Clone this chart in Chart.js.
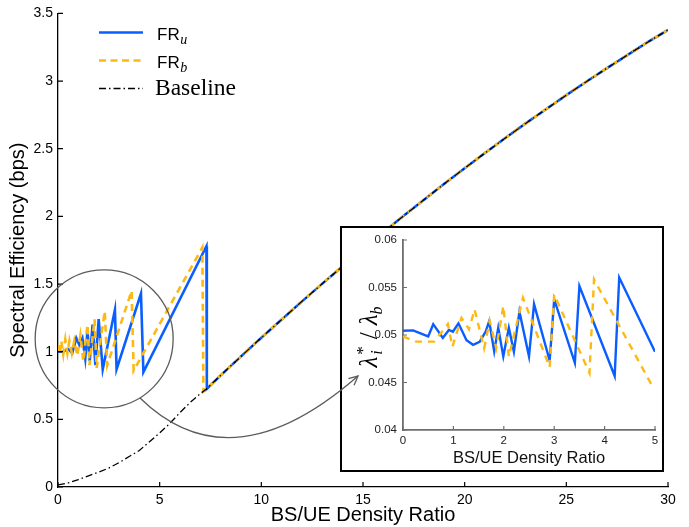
<!DOCTYPE html>
<html><head><meta charset="utf-8">
<script src="https://cdn.jsdelivr.net/npm/chart.js@4"></script>
<style>
html,body{margin:0;padding:0;background:#fff;}
#wrap{position:relative;width:689px;height:527px;overflow:hidden;background:#fff;}
#main{position:absolute;left:0;top:0;}
#inset{position:absolute;left:340px;top:226px;background:#fff;}
</style></head><body>
<div id="wrap"><canvas id="main" width="689" height="527"></canvas><canvas id="inset" width="324" height="246"></canvas></div>
<script>
// ---------- data ----------
const baseX = [0,0.5,1,1.5,2,2.5,3,3.5,4,4.5,5,5.5,6,6.5,7,7.3,8,9,10,11,12,13,14,15,16,17,18,19,20,21,22,23,24,25,26,27,28,29,30];
const baseY = [0.015,0.03,0.055,0.083,0.11,0.14,0.18,0.225,0.27,0.335,0.40,0.47,0.55,0.625,0.69,0.725,0.825,0.965,1.103,1.238,1.372,1.503,1.632,1.758,1.882,2.004,2.123,2.241,2.356,2.468,2.579,2.687,2.792,2.896,2.997,3.096,3.192,3.287,3.378];

const fruX = [0,0.25,0.5,0.7,0.9,1.05,1.2,1.34,1.45,1.56,1.7,1.84,2.0,2.2,2.8,2.88,4.08,4.2,7.3,7.32];
const fruY = [1.0,1.0,1.02,0.99,1.1,1.05,1.1,0.95,1.16,0.93,1.2,0.9,1.24,0.87,1.31,0.87,1.43,0.85,1.78,0.725];

const frbX = [0,0.08,0.16,0.26,0.36,0.46,0.56,0.68,0.8,0.95,1.1,1.25,1.45,1.55,1.8,1.9,2.3,2.42,3.62,3.72,7.1,7.15];
const frbY = [1.05,0.98,1.08,0.98,1.09,0.99,1.08,0.99,1.08,0.97,1.12,0.93,1.2,0.9,1.24,0.88,1.3,0.9,1.45,0.86,1.77,0.705];

const insetFruX = [0,0.2,0.5,0.6,0.79,0.91,0.99,1.1,1.26,1.39,1.52,1.64,1.71,1.81,1.89,1.99,2.1,2.2,2.31,2.5,2.6,2.91,3.0,3.41,3.5,4.2,4.29,5];
const insetFruY = [0.05045,0.05049,0.04985,0.05114,0.04968,0.05053,0.05035,0.05123,0.04945,0.04897,0.04928,0.05035,0.05145,0.04826,0.05075,0.04775,0.05075,0.04826,0.05245,0.04775,0.05325,0.04732,0.05375,0.04706,0.05515,0.04568,0.05606,0.04824];

const insetFrbX = [0,0.26,0.62,0.89,0.98,1.16,1.31,1.42,1.61,1.72,1.85,1.99,2.1,2.38,2.91,3.0,3.7,3.79,4.97];
const insetFrbY = [0.04985,0.0493,0.0493,0.05115,0.04877,0.05180,0.05060,0.05270,0.04860,0.05150,0.04860,0.05305,0.04772,0.05392,0.04660,0.05425,0.04600,0.05585,0.04439];

const mainXTicks = [0,5,10,15,20,25,30];
const mainYTicks = [0,0.5,1,1.5,2,2.5,3,3.5];
const insetXTicks = [0,1,2,3,4,5];
const insetYTicks = [0.04,0.045,0.05,0.055,0.06];

// ---------- styles ----------
const BLUE = '#0a5eff';
const YEL = '#fdb913';
const SANS = '"Liberation Sans", Arial, Helvetica, sans-serif';
const SERIF = '"Liberation Serif", "Times New Roman", serif';

const pts = (xs, ys) => xs.map((x, i) => ({x, y: ys[i]}));
const baseTail = (from) => pts(baseX, baseY).filter(p => p.x > from);

const baseMain = pts(baseX, baseY);
const fruMain = pts(fruX, fruY).concat(baseTail(7.4));
const frbMain = pts(frbX, frbY).concat(baseTail(7.2));

function inwardTicks(chart, len, color, width) {
  const {ctx, chartArea: {left, bottom}} = chart;
  const xs = chart.scales.x, ys = chart.scales.y;
  ctx.save();
  ctx.strokeStyle = color; ctx.lineWidth = width; ctx.setLineDash([]);
  ctx.beginPath();
  xs.ticks.forEach(t => { const p = xs.getPixelForValue(t.value); ctx.moveTo(p, bottom); ctx.lineTo(p, bottom - len); });
  ys.ticks.forEach(t => { const p = ys.getPixelForValue(t.value); ctx.moveTo(left, p); ctx.lineTo(left + len, p); });
  ctx.stroke();
  ctx.restore();
}

// arrow annotation (page coordinates), offset for the canvas it is drawn in
function drawArrow(ctx, ox, oy) {
  const p0 = {x: 140 - ox, y: 398 - oy}, c = {x: 231 - ox, y: 487 - oy}, p2 = {x: 358 - ox, y: 376 - oy};
  ctx.save();
  ctx.strokeStyle = '#5c5c5c'; ctx.lineWidth = 1.3; ctx.setLineDash([]);
  ctx.beginPath(); ctx.moveTo(p0.x, p0.y); ctx.quadraticCurveTo(c.x, c.y, p2.x, p2.y); ctx.stroke();
  const ang = Math.atan2(p2.y - c.y, p2.x - c.x);
  const L = 10, a = 0.45;
  ctx.beginPath();
  ctx.moveTo(p2.x - L * Math.cos(ang - a), p2.y - L * Math.sin(ang - a));
  ctx.lineTo(p2.x, p2.y);
  ctx.lineTo(p2.x - L * Math.cos(ang + a), p2.y - L * Math.sin(ang + a));
  ctx.stroke();
  ctx.restore();
}

const mainDecor = {
  id: 'mainDecor',
  afterDraw(chart) {
    const ctx = chart.ctx;
    inwardTicks(chart, 5, '#000', 1.2);
    const xs = chart.scales.x, ys = chart.scales.y;
    const cx = xs.getPixelForValue(2.27), cy = ys.getPixelForValue(1.095);
    ctx.save();
    ctx.strokeStyle = '#5c5c5c'; ctx.lineWidth = 1.3;
    ctx.beginPath(); ctx.arc(cx, cy, 69, 0, Math.PI * 2); ctx.stroke();
    ctx.restore();
    drawArrow(ctx, 0, 0);
    // legend
    ctx.save();
    ctx.lineCap = 'butt';
    ctx.strokeStyle = BLUE; ctx.lineWidth = 2.6; ctx.setLineDash([]);
    ctx.beginPath(); ctx.moveTo(99, 32.5); ctx.lineTo(143, 32.5); ctx.stroke();
    ctx.strokeStyle = YEL; ctx.setLineDash([7, 4.5]);
    ctx.beginPath(); ctx.moveTo(99, 60.5); ctx.lineTo(143, 60.5); ctx.stroke();
    ctx.strokeStyle = '#000'; ctx.lineWidth = 1.3; ctx.setLineDash([7, 3, 1.5, 3]);
    ctx.beginPath(); ctx.moveTo(99, 88.5); ctx.lineTo(143, 88.5); ctx.stroke();
    ctx.setLineDash([]);
    ctx.fillStyle = '#000'; ctx.textAlign = 'left'; ctx.textBaseline = 'alphabetic';
    ctx.font = '17px ' + SANS;
    ctx.fillText('FR', 157, 40);
    let w = ctx.measureText('FR').width;
    ctx.font = 'italic 14px ' + SERIF;
    ctx.fillText('u', 157 + w + 0.5, 43.5);
    ctx.font = '17px ' + SANS;
    ctx.fillText('FR', 157, 68);
    ctx.font = 'italic 14px ' + SERIF;
    ctx.fillText('b', 157 + w + 0.5, 71.5);
    ctx.font = '23.5px ' + SERIF;
    ctx.fillText('Baseline', 155, 94.5);
    ctx.restore();
  }
};

new Chart(document.getElementById('main'), {
  type: 'line',
  data: {datasets: [
    {label: 'Baseline', data: baseMain, borderColor: '#000', borderWidth: 1.3, borderDash: [7, 3, 1.5, 3], pointRadius: 0, tension: 0, fill: false},
    {label: 'FRb', data: frbMain, borderColor: YEL, borderWidth: 2.6, borderDash: [7, 5], pointRadius: 0, tension: 0, fill: false},
    {label: 'FRu', data: fruMain, borderColor: BLUE, borderWidth: 2.6, pointRadius: 0, tension: 0, fill: false}
  ]},
  options: {
    responsive: false, animation: false, devicePixelRatio: 1,
    layout: {padding: {left: 0, right: 21, top: 12, bottom: 0}},
    plugins: {legend: {display: false}, tooltip: {enabled: false}},
    scales: {
      x: {
        type: 'linear', min: 0, max: 30,
        afterBuildTicks: s => { s.ticks = mainXTicks.map(v => ({value: v})); },
        afterFit: s => { s.height = 40; },
        grid: {drawOnChartArea: false, drawTicks: false},
        border: {color: '#000', width: 1.3},
        ticks: {padding: 5, color: '#000', font: {family: SANS, size: 14}, callback: v => String(v), maxRotation: 0},
        title: {display: true, text: 'BS/UE Density Ratio', color: '#000', font: {family: SANS, size: 20}, padding: {top: 0, bottom: 0}}
      },
      y: {
        type: 'linear', min: 0, max: 3.5,
        afterBuildTicks: s => { s.ticks = mainYTicks.map(v => ({value: v})); },
        afterFit: s => { s.width = 58; },
        grid: {drawOnChartArea: false, drawTicks: false},
        border: {color: '#000', width: 1.3},
        ticks: {padding: 5, color: '#000', font: {family: SANS, size: 14}, callback: v => String(v)},
        title: {display: true, text: 'Spectral Efficiency (bps)', color: '#000', font: {family: SANS, size: 20}, padding: {top: 6, bottom: 0}}
      }
    }
  },
  plugins: [mainDecor]
});

const insetDecor = {
  id: 'insetDecor',
  afterDraw(chart) {
    const ctx = chart.ctx;
    inwardTicks(chart, 4, '#6e6e6e', 1.2);
    // y-axis label  λ*_i / λ_b  (rotated)
    ctx.save();
    ctx.fillStyle = '#000';
    ctx.translate(37, 111);
    ctx.rotate(-Math.PI / 2);
    ctx.textBaseline = 'alphabetic'; ctx.textAlign = 'left';
    const big = 'italic 25px ' + SERIF, small = 'italic 16px ' + SERIF, slash = '25px ' + SERIF, star = '17px ' + SERIF;
    ctx.font = big; const wl = ctx.measureText('λ').width;
    ctx.font = star; const ws = ctx.measureText('*').width;
    ctx.font = small; const wi = ctx.measureText('i').width, wb = ctx.measureText('b').width;
    ctx.font = slash; const wsl = ctx.measureText('/').width;
    const gap = 7;
    const total = wl + 2 + Math.max(ws, wi) + gap + wsl + gap + wl + wb;
    let x = -total / 2;
    ctx.font = big; ctx.fillText('λ', x, 0); x += wl + 2;
    ctx.font = star; ctx.fillText('*', x, -9);
    ctx.font = small; ctx.fillText('i', x, 5);
    x += Math.max(ws, wi) + gap;
    ctx.font = slash; ctx.fillText('/', x, 0); x += wsl + gap;
    ctx.font = big; ctx.fillText('λ', x, 0); x += wl;
    ctx.font = small; ctx.fillText('b', x, 5);
    ctx.restore();
    // box
    ctx.save();
    ctx.strokeStyle = '#000'; ctx.lineWidth = 2;
    ctx.strokeRect(1, 1, chart.width - 2, chart.height - 2);
    ctx.restore();
    drawArrow(ctx, 340, 226);
  }
};

new Chart(document.getElementById('inset'), {
  type: 'line',
  data: {datasets: [
    {label: 'FRb', data: pts(insetFrbX, insetFrbY), borderColor: YEL, borderWidth: 2.4, borderDash: [7, 6], pointRadius: 0, tension: 0, fill: false},
    {label: 'FRu', data: pts(insetFruX, insetFruY), borderColor: BLUE, borderWidth: 2.4, pointRadius: 0, tension: 0, fill: false}
  ]},
  options: {
    responsive: false, animation: false, devicePixelRatio: 1,
    layout: {padding: {left: 0, right: 9, top: 14, bottom: 0}},
    plugins: {legend: {display: false}, tooltip: {enabled: false}},
    scales: {
      x: {
        type: 'linear', min: 0, max: 5,
        afterBuildTicks: s => { s.ticks = insetXTicks.map(v => ({value: v})); },
        afterFit: s => { s.height = 42; },
        grid: {drawOnChartArea: false, drawTicks: false},
        border: {color: '#6e6e6e', width: 1.8},
        ticks: {padding: 4, color: '#222', font: {family: SANS, size: 11.5}, callback: v => String(v), maxRotation: 0},
        title: {display: true, text: 'BS/UE Density Ratio', color: '#111', font: {family: SANS, size: 16.5}, padding: {top: 0, bottom: 4}}
      },
      y: {
        type: 'linear', min: 0.04, max: 0.06,
        afterBuildTicks: s => { s.ticks = insetYTicks.map(v => ({value: v})); },
        afterFit: s => { s.width = 63; },
        grid: {drawOnChartArea: false, drawTicks: false},
        border: {color: '#6e6e6e', width: 1.8},
        ticks: {padding: 6, color: '#222', font: {family: SANS, size: 11.5}, callback: v => String(+v.toFixed(4))}
      }
    }
  },
  plugins: [insetDecor]
});
</script>
</body></html>
